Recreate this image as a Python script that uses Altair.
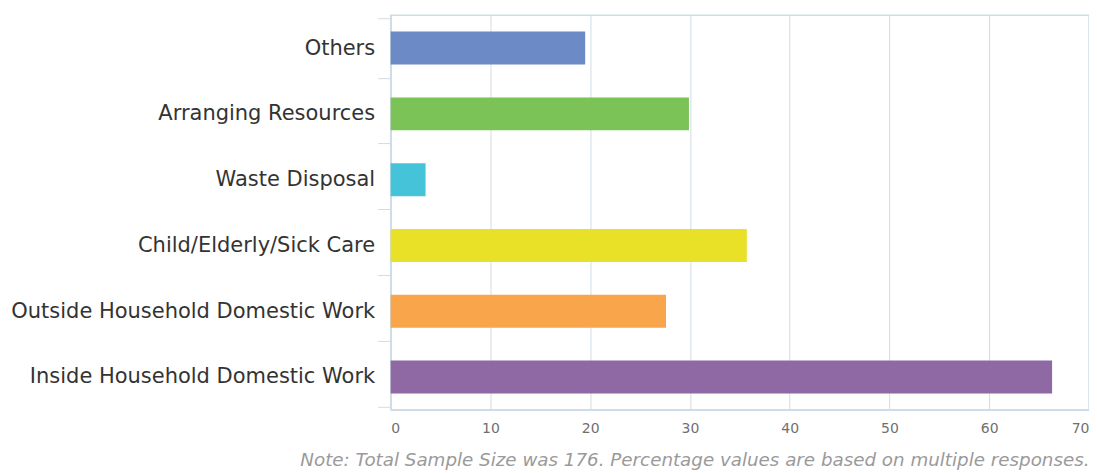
import altair as alt
import pandas as pd

categories = ["Others", "Arranging Resources", "Waste Disposal", "Child/Elderly/Sick Care",
              "Outside Household Domestic Work", "Inside Household Domestic Work"]
values = [19.5, 29.9, 3.5, 35.7, 27.6, 66.3]
colors = ["#6c8ac6", "#7bc257", "#45c4d9", "#e9e028", "#f8a54b", "#8e69a3"]
note = "Note: Total Sample Size was 176. Percentage values are based on multiple responses."

df = pd.DataFrame({"category": categories, "value": values})

grid_color = "#d0dde6"

bars = alt.Chart(df).mark_bar(size=33).encode(
    x=alt.X("value:Q", scale=alt.Scale(domain=[0, 70]),
            axis=alt.Axis(title=None, values=list(range(0, 71, 10)), grid=True,
                          gridColor=grid_color, domainColor=grid_color, domainWidth=1.5,
                          tickSize=0, labelPadding=12, labelFontSize=14,
                          labelColor="#707070", labelFont="DejaVu Sans")),
    y=alt.Y("category:N", sort=categories,
            axis=alt.Axis(title=None, tickBand="extent", tickSize=13, tickColor=grid_color,
                          domainColor=grid_color, domainWidth=1.5, labelPadding=3,
                          labelFontSize=21, labelColor="#333333", labelFont="DejaVu Sans",
                          labelLimit=400, grid=False)),
    color=alt.Color("category:N", scale=alt.Scale(domain=categories, range=colors), legend=None),
)

chart = bars.properties(
    width=699, height=395,
    autosize=alt.AutoSizeParams(type="none"),
    padding={"left": 383, "top": 7, "right": 0, "bottom": 70},
    title=alt.TitleParams(note, orient="bottom", anchor="end", offset=16, fontSize=18.3,
                          fontStyle="italic", fontWeight="normal", color="#9a9a9a",
                          font="DejaVu Sans"),
).configure_view(stroke=grid_color, strokeWidth=1.5)

chart.save("out.html", embed_options={"renderer": "svg", "actions": False})
